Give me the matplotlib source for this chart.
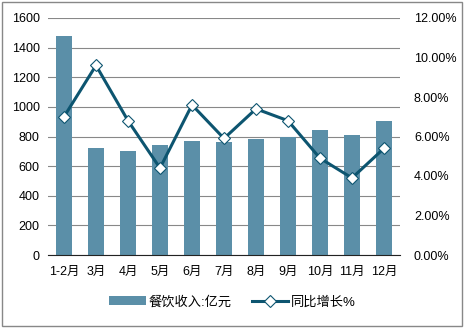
import matplotlib
matplotlib.use('Agg')
import matplotlib.pyplot as plt
from matplotlib.ticker import FuncFormatter
from matplotlib.patches import Rectangle

plt.rcParams['font.family'] = ['Liberation Sans', 'Noto Sans CJK SC']

months = ['1-2月', '3月', '4月', '5月', '6月', '7月', '8月', '9月', '10月', '11月', '12月']
revenue = [1480, 720, 700, 740, 770, 760, 785, 800, 845, 810, 905]
growth = [7.0, 9.6, 6.8, 4.4, 7.6, 5.9, 7.4, 6.8, 4.9, 3.9, 5.4]

bar_color = '#5b8fa8'
line_color = '#0d5570'

fig = plt.figure(figsize=(4.65, 3.28), dpi=100)
fig.patches.append(Rectangle((0.004, 0.006), 0.99, 0.988, transform=fig.transFigure,
                             fill=False, edgecolor='#888888', linewidth=1))
ax = fig.add_axes([48 / 465, 1 - 255 / 328, (400 - 48) / 465, (255 - 18) / 328])
x = list(range(len(months)))
bars = ax.bar(x, revenue, width=0.5, color=bar_color, label='餐饮收入:亿元', zorder=2)
ax.set_ylim(0, 1600)
ax.set_yticks(range(0, 1601, 200))
ax.set_xlim(-0.5, len(months) - 0.5)
ax.set_xticks(x)
ax.set_xticklabels(months)
ax.grid(axis='y', color='#888888', linewidth=0.8, zorder=0)
for s in ['top', 'right', 'left']:
    ax.spines[s].set_visible(False)
ax.spines['bottom'].set_color('#222222')
ax.tick_params(length=0, labelsize=9, pad=6)
ax.tick_params(axis='x', pad=8)

ax2 = ax.twinx()
ln, = ax2.plot(x, growth, color=line_color, linewidth=2.2, marker='D', markersize=6,
               markerfacecolor='white', markeredgecolor=line_color, markeredgewidth=0.8,
               label='同比增长%', zorder=3)
ax2.set_ylim(0, 12)
ax2.set_yticks(range(0, 13, 2))
ax2.yaxis.set_major_formatter(FuncFormatter(lambda v, p: '%.2f%%' % v))
for s in ax2.spines.values():
    s.set_visible(False)
ax2.tick_params(length=0, labelsize=9, pad=10)

fig.legend(handles=[bars, ln], loc='center', bbox_to_anchor=(0.5, 1 - 302 / 328), ncol=2,
           frameon=False, fontsize=9.5, handlelength=2.8, columnspacing=1.5, handletextpad=0.2)

fig.savefig('out.png', dpi=100)
